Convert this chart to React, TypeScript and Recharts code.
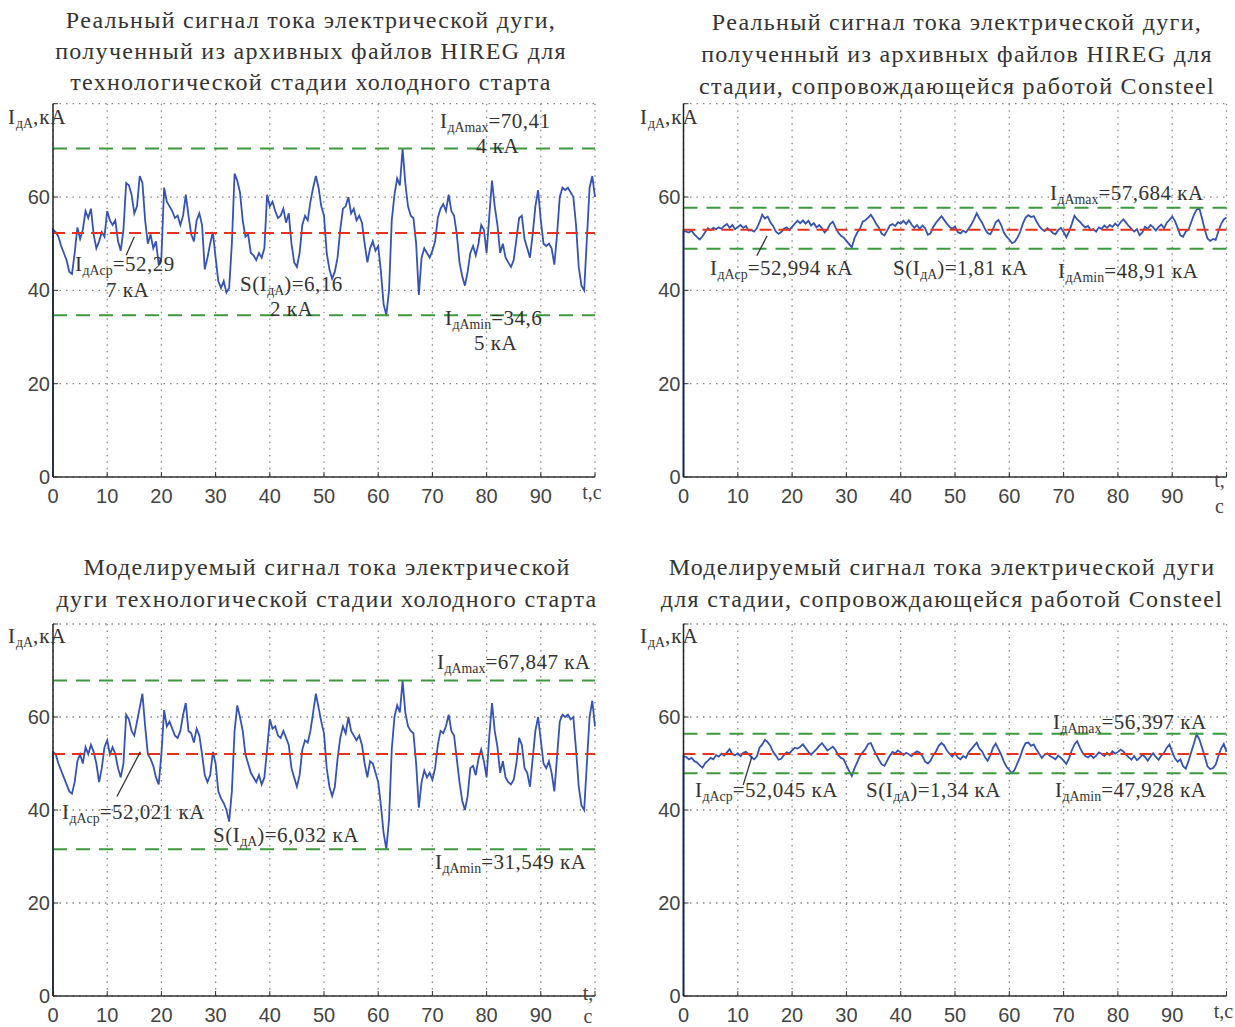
import React from 'react';
import { LineChart, Line, XAxis, YAxis, CartesianGrid, ReferenceLine } from 'recharts';

// sampling step of the traced signals, seconds
const TIME_STEP = 0.5;
const X_TICKS = [0, 10, 20, 30, 40, 50, 60, 70, 80, 90, 100];
const Y_TICKS = [0, 20, 40, 60, 80];

// first point is the start-up (0 kA at t=0), then t = 0, 0.5 ... 100 s
const realColdStart = [0, 53,
  52.5, 51.5, 49.5, 48, 46.5, 44, 43.5, 48, 53.5, 51,
  53, 57, 55.5, 57.5, 52, 49, 50.5, 52.5, 51.5, 57,
  55, 54, 55, 50.5, 48.5, 53, 63, 62.5, 60.5, 56.5,
  58, 64.5, 63, 55, 50, 52, 49, 50.5, 45.5, 47,
  62, 59, 58, 57, 55.5, 56, 54, 56, 60.5, 56,
  52, 50.5, 55, 56.5, 54, 44.5, 47, 50, 52.5, 47,
  42, 40.5, 42, 39.5, 40.5, 50, 65, 63.5, 61, 55,
  51.5, 52, 48, 47.5, 46.5, 48, 47, 49, 60.5, 58,
  59, 57, 55.5, 56, 57.5, 54.5, 56.5, 50, 46, 45,
  48, 54, 56, 55, 59, 62, 64.5, 62, 58, 56,
  48, 44.5, 42.5, 44, 47, 53, 57.5, 58, 60, 56.5,
  57.5, 55, 56, 54.5, 50, 46, 49, 50.5, 48.5, 49.5,
  44, 37, 34.7, 40, 55, 60.5, 64, 62.5, 70.4, 63,
  58, 56, 55.5, 50, 39, 47, 49, 48, 47, 48.5,
  50.5, 55.5, 57.5, 58.5, 57, 60.5, 57, 56, 52, 46,
  43, 41, 44, 48, 49.5, 47.5, 50, 54, 53, 48,
  56, 63.5, 58, 54, 48, 50, 47, 46, 45, 46.5,
  51, 55.5, 56, 51, 49, 47, 52, 58, 61.5, 55,
  50, 49.5, 50, 49, 45.5, 52, 60, 62, 61.5, 62,
  61, 60, 54, 45, 41, 40, 51, 62, 64.5, 60,
];

const realConsteel = [0, 52.8,
  52.6, 52.4, 52.8, 52, 51.4, 50.9, 51.6, 52.5, 53.3, 52.9,
  53.4, 53.1, 53.5, 53.2, 53.8, 54.2, 53.4, 54, 53.1, 53.6,
  54, 53.4, 53.8, 52.8, 52.9, 52.6, 53.3, 54.6, 56.2, 55.4,
  55.8, 54.6, 53.8, 52.6, 52.1, 52.5, 53.2, 53.5, 52.9, 53.6,
  54.3, 54.9, 54.4, 55, 54.3, 54.9, 53.9, 54.4, 53.5, 54,
  53.3, 52.4, 53.1, 54.2, 54.7, 53.5, 52.4, 51.7, 51.3, 50.6,
  49.9, 49.2, 51.2, 52.4, 53.2, 54.7, 55, 55.6, 56.2, 55.3,
  54.2, 53.4, 52.1, 51.8, 52.8, 53.9, 54.2, 53.8, 54.6, 54.3,
  54.9, 54.2, 55, 54.1, 53.4, 54, 53.2, 53.9, 53.3, 51.9,
  52.2, 53.6, 54.5, 55.2, 55.9, 55.1, 54.3, 53.6, 53.2, 53.7,
  52.5, 52.2, 52.8, 52.4, 53.2, 54.1, 55.2, 56.5, 55.4, 54.5,
  53.2, 52.3, 52, 53.1, 54.6, 55.1, 54, 52.4, 51.5, 50.9,
  50.1, 50.4, 51.3, 52.5, 54.3, 55.6, 56.1, 55.7, 55.9, 54.8,
  53.8, 53.1, 52.7, 53.3, 52.9, 52.3, 52, 52.9, 53.4, 52.5,
  51.4, 52.6, 54.2, 56, 55.2, 54.7, 54, 53.5, 53.8, 52.9,
  53.1, 52.6, 53.5, 53.2, 53.9, 53.4, 54, 53.6, 54.3, 53.8,
  54.6, 55.2, 54.5, 53.8, 53.2, 52.6, 53.1, 51.8, 52.4, 53.6,
  53.2, 54, 53.5, 52.8, 53.6, 54.1, 53.3, 54.5, 55.1, 55.8,
  54.9, 53.4, 51.8, 51.5, 52.6, 53, 54.6, 56.2, 57.3, 57.6,
  55.4, 53, 51.1, 50.6, 51, 50.8, 52.6, 54.2, 55.2, 55.6,
];

const modelColdStart = [0, 52.5,
  52, 50, 48.5, 47, 45.5, 44, 43.5, 46, 50.5, 52,
  50, 53.5, 52, 54, 52.5, 50, 46, 49, 53.5, 55,
  52, 53.5, 52, 49, 47, 50, 60.5, 59.5, 57, 56,
  59, 62, 65, 58, 52, 51, 49.5, 47, 45.5, 52,
  61.5, 58, 59, 57.5, 56, 55.5, 57, 60.5, 63, 57,
  56.5, 54.5, 57.5, 56, 52, 47.5, 46, 47.5, 52.5, 50,
  44, 42.5, 41.5, 40, 37.5, 44, 57, 62.5, 60, 57,
  52, 50, 48, 47, 46, 47.5, 45.5, 47, 53, 59.5,
  57.5, 58, 56, 55.5, 57, 55.5, 54, 49, 47, 45,
  47.5, 53, 55, 54.5, 57, 61, 65, 62, 59, 56.5,
  49, 45, 43, 45, 51, 55.5, 58, 56.5, 60, 57,
  56, 55, 56, 54, 50, 47, 50.5, 50, 48, 46,
  41, 35, 31.6, 38, 53, 60, 62.5, 61, 67.8, 61,
  58, 57, 56.5, 50, 40.5, 46, 48.5, 47, 48, 46.5,
  49, 54, 57, 56.5, 58, 60.5, 57, 56, 51, 46,
  42, 40, 43, 49, 49.5, 47.5, 51, 53, 50.5, 47,
  56, 63, 57, 53.5, 48, 50.5, 47, 46, 45.5, 46.5,
  50, 55.5, 54, 49, 48, 45, 51, 57, 60, 55,
  50, 49, 50.5, 48, 44, 51.5, 59, 60.5, 60, 60.5,
  59.5, 60, 53, 45, 41, 40, 50, 60, 63.5, 58,
];

const modelConsteel = [0, 51.6,
  51.4, 50.9, 51.2, 50.5, 50.2, 49.6, 49.1, 50.1, 50.6, 51.2,
  50.9, 51.8, 51.5, 52.1, 51.7, 52.4, 53.1, 52, 51.8, 52.2,
  51.6, 52.3, 52.5, 52, 51.4, 50.9, 51.5, 53.4, 54.1, 55.1,
  54.6, 53.8, 52.5, 51.7, 50.8, 51, 51.8, 52.4, 52.2, 52.8,
  53.4, 53.2, 53.6, 54.1, 53.3, 52.5, 51.9, 52.5, 53.1, 53.8,
  54.4, 53.6, 52.8, 53.2, 53.6, 52.9, 51.8, 51.2, 50.9, 49.6,
  48.4, 47.3, 49, 50.3, 51.6, 52.4, 53.1, 54.2, 54.4, 53.1,
  51.9, 50.8, 49.8, 49.5, 50.6, 51.7, 52.5, 52.2, 52.8, 52.4,
  51.8, 52.3, 52, 51.6, 52.2, 52.6, 52.3, 51.6, 50.4, 50,
  50.6, 51.8, 52.6, 53.8, 54.4, 53.9, 52.8, 52.1, 51.5, 52.3,
  51.3, 50.9, 51.6, 51.2, 52.4, 53.1, 53.8, 54.5, 53.2, 52.6,
  51.4, 50.6, 51.7, 53.4, 54.3, 53.1, 51.9, 50.4, 49.3, 48.6,
  47.9, 48.7, 50.1, 51.4, 53.2, 54.4, 54.5, 53.8, 54.1, 53,
  52.1, 51.2, 51.9, 52.2, 51.6, 51.3, 50.9, 51.7, 51.2, 50.6,
  49.9, 51.1, 52.8, 54.1, 54.8, 53.4, 52.3, 51.6, 51.3, 51.8,
  51.2, 51.7, 52.4, 52.1, 51.6, 52.3, 51.8, 52.6, 52.1, 52.5,
  53, 52.6, 51.9, 51.3, 50.8, 51.6, 50.7, 51.2, 51.9, 51.4,
  50.6, 51.5, 52.2, 51.4, 50.8, 51.7, 52.3, 53.4, 54.1, 52.5,
  51.1, 50.4, 50.9, 49.4, 48.9, 50.5, 52.4, 54.3, 56.3, 55.2,
  53.4, 51.5, 49.4, 48.8, 49, 49.7, 51.6, 53.2, 54.2, 52.5,
];

// [mean, max, min], kA
const realColdStats = [52.297, 70.414, 34.655];
const realConsteelStats = [52.994, 57.684, 48.91];
const modelColdStats = [52.021, 67.847, 31.549];
const modelConsteelStats = [52.045, 56.397, 47.928];

const toRows = (values: number[]) =>
  values.map((v, i) => ({ t: i === 0 ? 0 : (i - 1) * TIME_STEP, v }));

const SANS = '"Liberation Sans", Arial, sans-serif';
const SERIF = '"Liberation Serif", "Times New Roman", serif';
const TEXT = '#333';

const Sub = ({ children }: { children: React.ReactNode }) => (
  <span style={{ fontSize: '0.66em', position: 'relative', top: '0.32em', letterSpacing: 0 }}>{children}</span>
);

function XTick(props: any) {
  const { x, y, payload, unitMode, tY, cY } = props;
  if (payload.value === 100) {
    if (unitMode === 'split') {
      return (
        <g fill="#444" fontFamily={SERIF} fontSize={20}>
          <text x={x - 7} y={y + tY} textAnchor="middle" dy="0.71em">t,</text>
          <text x={x - 7} y={y + cY} textAnchor="middle" dy="0.71em">c</text>
        </g>
      );
    }
    return (
      <text x={x - 3} y={y - 4} textAnchor="middle" dy="0.71em" fill="#444" fontFamily={SERIF} fontSize={20}>
        t,c
      </text>
    );
  }
  return (
    <text x={x} y={y} textAnchor="middle" dy="0.71em" fill="#444" fontFamily={SANS} fontSize={20}>
      {payload.value}
    </text>
  );
}

type PanelProps = {
  left: number;
  top: number;
  width: number;
  height: number;
  marginTop: number;
  marginRight: number;
  yAxisWidth: number;
  xAxisHeight: number;
  values: number[];
  stats: number[];
  leader: { x: number; y: number }[];
  unitMode: 'inline' | 'split';
  tY?: number;
  cY?: number;
};

function Panel(p: PanelProps) {
  const data = toRows(p.values);
  const [mean, max, min] = p.stats;
  return (
    <div style={{ position: 'absolute', left: p.left, top: p.top }}>
      <LineChart
        width={p.width}
        height={p.height}
        data={data}
        margin={{ top: p.marginTop, right: p.marginRight, bottom: 0, left: 0 }}
      >
        <CartesianGrid stroke="#888" strokeDasharray="1.5 5" strokeWidth={1.3} />
        <XAxis
          dataKey="t"
          type="number"
          domain={[0, 100]}
          ticks={X_TICKS}
          interval={0}
          height={p.xAxisHeight}
          axisLine={{ stroke: '#333', strokeWidth: 1.5 }}
          tickLine={{ stroke: '#333' }}
          tickSize={-5}
          tickMargin={17}
          tick={(tp: any) => <XTick {...tp} unitMode={p.unitMode} tY={p.tY ?? -16} cY={p.cY ?? 10} />}
        />
        <YAxis
          type="number"
          domain={[0, 80]}
          ticks={Y_TICKS}
          interval={0}
          width={p.yAxisWidth}
          axisLine={{ stroke: '#222', strokeWidth: 1.5 }}
          tickLine={{ stroke: '#333' }}
          tickSize={-5}
          tickMargin={8}
          tickFormatter={(v: number) => (v === 80 ? '' : String(v))}
          tick={{ fill: '#444', fontSize: 20, fontFamily: SANS }}
        />
        <Line
          dataKey="v"
          type="linear"
          stroke="#3553b2"
          strokeWidth={1.8}
          dot={false}
          isAnimationActive={false}
        />
        <ReferenceLine y={max} stroke="#3c9a3c" strokeWidth={2} strokeDasharray="14 9" />
        <ReferenceLine y={min} stroke="#3c9a3c" strokeWidth={2} strokeDasharray="14 9" />
        <ReferenceLine y={mean} stroke="#e5321e" strokeWidth={2} strokeDasharray="12 7" />
        <ReferenceLine segment={p.leader} stroke="#333" strokeWidth={1.3} ifOverflow="visible" />
      </LineChart>
    </div>
  );
}

const noteStyle = (left: number, cy: number): React.CSSProperties => ({
  position: 'absolute',
  left,
  top: cy - 12,
  fontFamily: SERIF,
  fontSize: 21,
  lineHeight: '24px',
  letterSpacing: '0.5px',
  color: TEXT,
  whiteSpace: 'nowrap',
});

const titleStyle = (cx: number, top: number, lh: number): React.CSSProperties => ({
  position: 'absolute',
  left: cx - 330,
  width: 660,
  top,
  textAlign: 'center',
  fontFamily: SERIF,
  fontSize: 24,
  letterSpacing: '1.3px',
  lineHeight: `${lh}px`,
  color: TEXT,
  whiteSpace: 'nowrap',
});

const YLabel = ({ left, cy }: { left: number; cy: number }) => (
  <div style={{ ...noteStyle(left, cy), fontSize: 21, letterSpacing: '1px' }}>
    I<Sub>дА</Sub>,кА
  </div>
);

export default function App() {
  return (
    <div style={{ position: 'absolute', left: 0, top: 0, width: 1235, height: 1027, background: '#fff', overflow: 'hidden' }}>
      <Panel
        left={0} top={0} width={620} height={520} marginTop={103.7} marginRight={25}
        yAxisWidth={53} xAxisHeight={43} values={realColdStart} stats={realColdStats}
        leader={[{ x: 13.5, y: 47.5 }, { x: 15, y: 51.5 }]} unitMode="inline"
      />
      <Panel
        left={620} top={0} width={615} height={520} marginTop={103.7} marginRight={8.5}
        yAxisWidth={63.5} xAxisHeight={43} values={realConsteel} stats={realConsteelStats}
        leader={[{ x: 13.5, y: 47.4 }, { x: 15.4, y: 51.7 }]} unitMode="split"
      />
      <Panel
        left={0} top={520} width={620} height={507} marginTop={104} marginRight={25}
        yAxisWidth={53} xAxisHeight={31} values={modelColdStart} stats={modelColdStats}
        leader={[{ x: 11.8, y: 42.9 }, { x: 16.1, y: 52.5 }]} unitMode="split" tY={-22} cY={1}
      />
      <Panel
        left={620} top={520} width={615} height={507} marginTop={104} marginRight={8.5}
        yAxisWidth={63.5} xAxisHeight={31} values={modelConsteel} stats={modelConsteelStats}
        leader={[{ x: 11, y: 45.4 }, { x: 12.6, y: 51.5 }]} unitMode="inline"
      />

      <div style={titleStyle(311, 4.5, 31)}>
        Реальный сигнал тока электрической дуги,<br />
        полученный из архивных файлов HIREG для<br />
        технологической стадии холодного старта
      </div>
      <div style={titleStyle(957, 6, 32)}>
        Реальный сигнал тока электрической дуги,<br />
        полученный из архивных файлов HIREG для<br />
        стадии, сопровождающейся работой Consteel
      </div>
      <div style={titleStyle(327, 551, 32)}>
        Моделируемый сигнал тока электрической<br />
        дуги технологической стадии холодного старта
      </div>
      <div style={titleStyle(942, 551, 32)}>
        Моделируемый сигнал тока электрической дуги<br />
        для стадии, сопровождающейся работой Consteel
      </div>

      <YLabel left={8} cy={117} />
      <YLabel left={640} cy={117} />
      <YLabel left={8} cy={636} />
      <YLabel left={640} cy={636} />

      {/* real, cold start */}
      <div style={noteStyle(440, 121)}>I<Sub>дAmax</Sub>=70,41</div>
      <div style={noteStyle(476, 146)}>4 кА</div>
      <div style={noteStyle(75, 264)}>I<Sub>дAср</Sub>=52,29</div>
      <div style={noteStyle(106, 290)}>7 кА</div>
      <div style={noteStyle(240, 284)}>S(I<Sub>дА</Sub>)=6,16</div>
      <div style={noteStyle(270, 309)}>2 кА</div>
      <div style={noteStyle(445, 318)}>I<Sub>дAmin</Sub>=34,6</div>
      <div style={noteStyle(474, 343)}>5 кА</div>

      {/* real, Consteel */}
      <div style={noteStyle(1050, 193)}>I<Sub>дAmax</Sub>=57,684 кА</div>
      <div style={noteStyle(710, 268)}>I<Sub>дAср</Sub>=52,994 кА</div>
      <div style={noteStyle(893, 268)}>S(I<Sub>дА</Sub>)=1,81 кА</div>
      <div style={noteStyle(1058, 271)}>I<Sub>дAmin</Sub>=48,91 кА</div>

      {/* model, cold start */}
      <div style={noteStyle(437, 662)}>I<Sub>дAmax</Sub>=67,847 кА</div>
      <div style={noteStyle(62, 812)}>I<Sub>дAср</Sub>=52,021 кА</div>
      <div style={noteStyle(213, 835)}>S(I<Sub>дА</Sub>)=6,032 кА</div>
      <div style={noteStyle(435, 862)}>I<Sub>дAmin</Sub>=31,549 кА</div>

      {/* model, Consteel */}
      <div style={noteStyle(1053, 722)}>I<Sub>дAmax</Sub>=56,397 кА</div>
      <div style={noteStyle(695, 790)}>I<Sub>дAср</Sub>=52,045 кА</div>
      <div style={noteStyle(866, 790)}>S(I<Sub>дА</Sub>)=1,34 кА</div>
      <div style={noteStyle(1055, 790)}>I<Sub>дAmin</Sub>=47,928 кА</div>
    </div>
  );
}
